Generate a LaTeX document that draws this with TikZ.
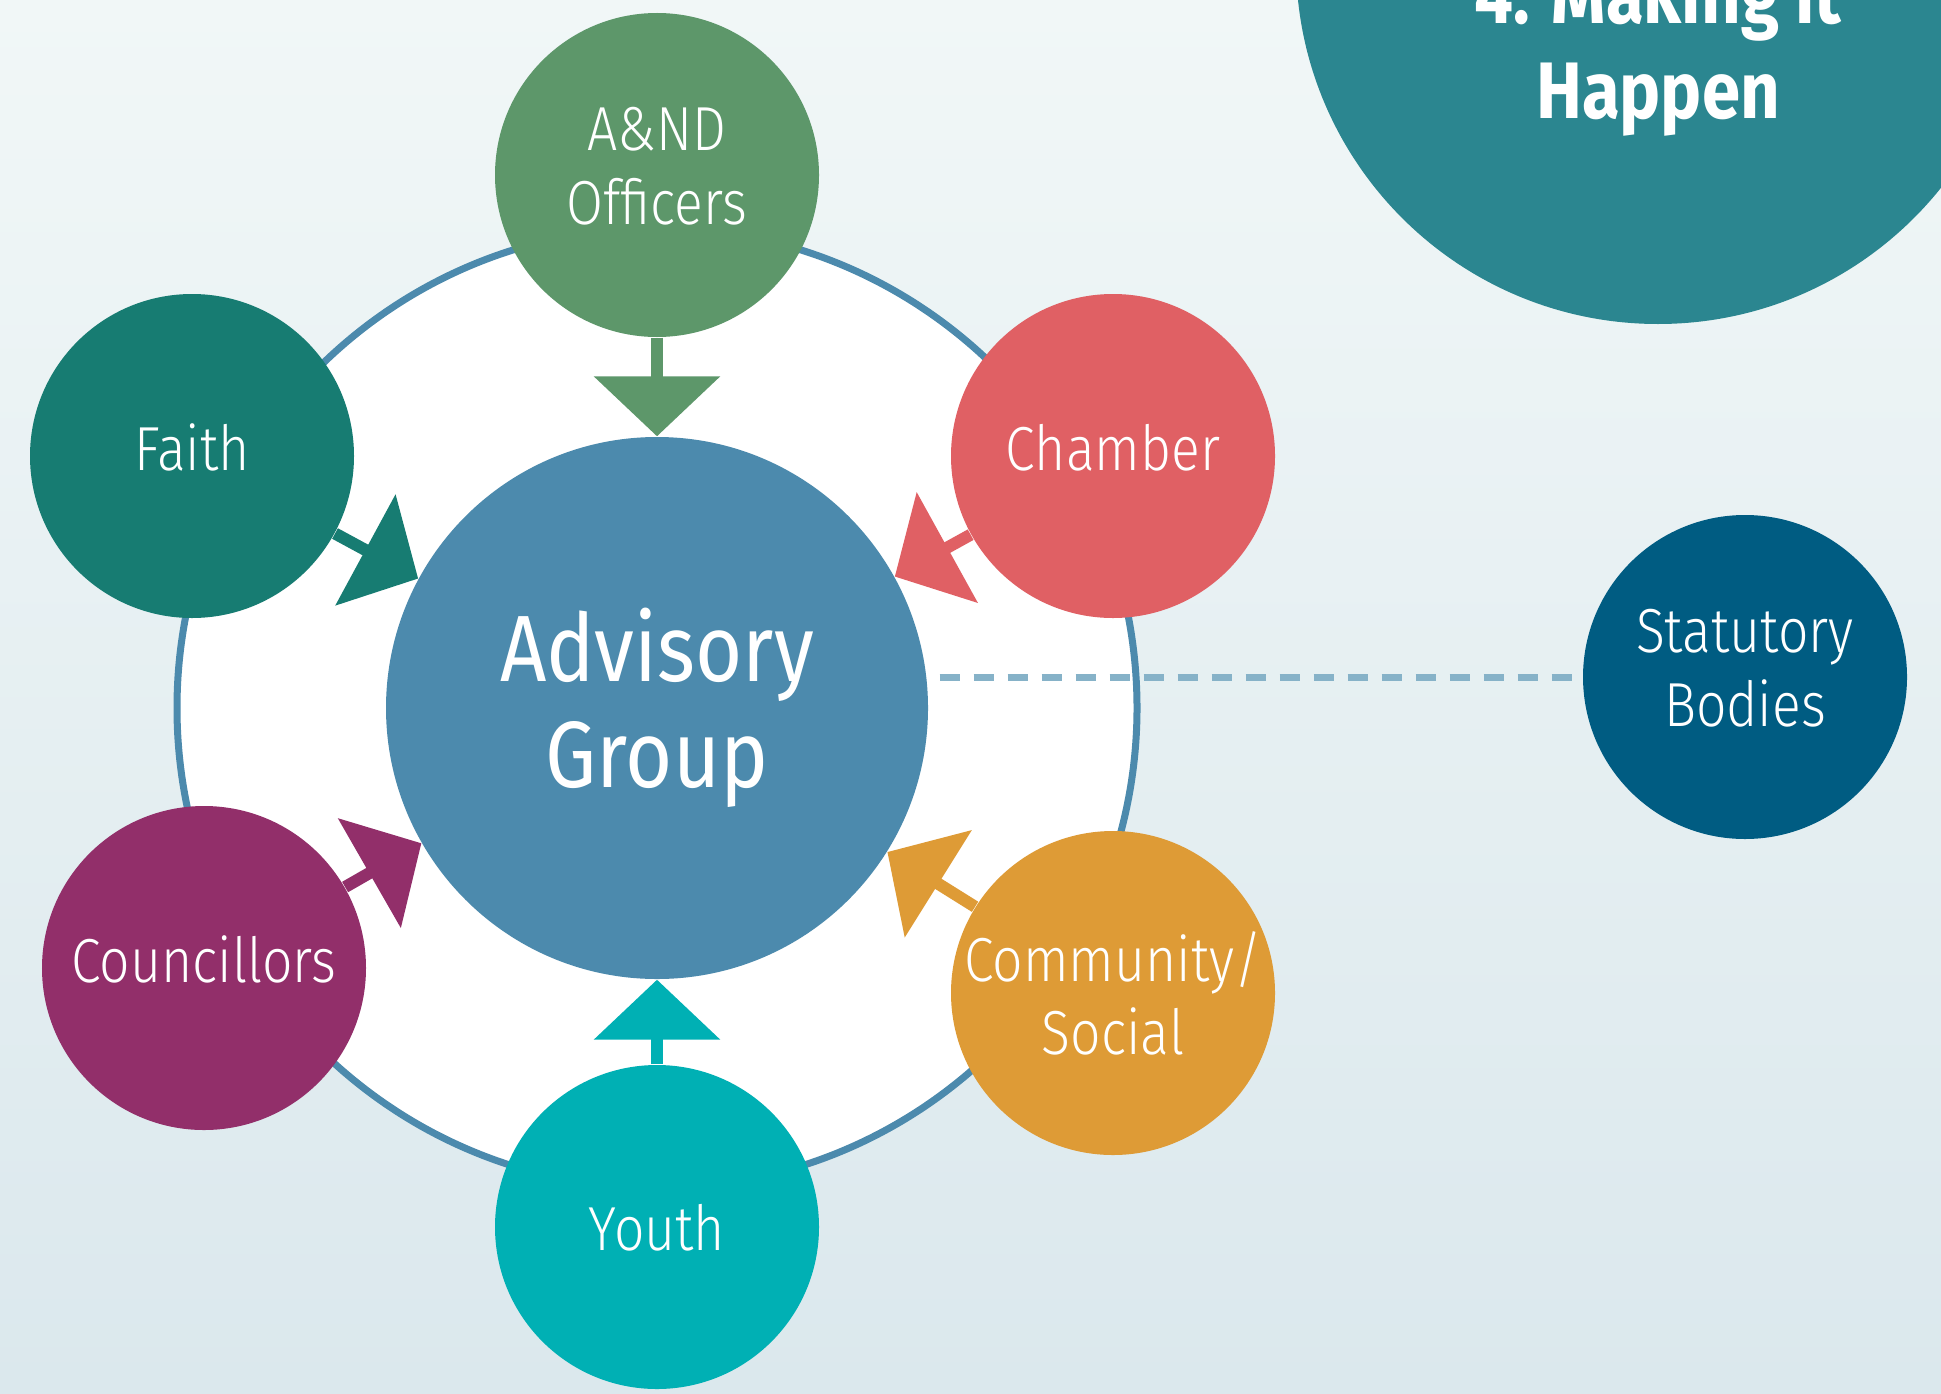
\documentclass[tikz,border=0pt]{standalone}
\usepackage{fontspec}
\setmainfont{Fira Sans}[UprightFont={* Light},BoldFont={* Bold},FakeStretch=0.86]
\newfontfamily\hubfont{Fira Sans}[FakeStretch=0.86]
\usetikzlibrary{arrows.meta}
\definecolor{AGBgTop}{HTML}{F1F7F7}
\definecolor{AGBgBot}{HTML}{DBE8ED}
\definecolor{AGHub}{HTML}{4C8AAD}
\definecolor{AGRing}{HTML}{4C8AAD}
\definecolor{AGDash}{HTML}{86B2C8}
\definecolor{AGGreen}{HTML}{5D976A}
\definecolor{AGTeal}{HTML}{177C72}
\definecolor{AGRed}{HTML}{E06064}
\definecolor{AGPlum}{HTML}{922F6A}
\definecolor{AGAmber}{HTML}{DE9B36}
\definecolor{AGCyan}{HTML}{00B0B4}
\definecolor{AGNavy}{HTML}{005C82}
\definecolor{AGTitle}{HTML}{2B8690}
\tikzset{
  ring/.style={circle,draw=AGRing,line width=0.07cm,fill=white,minimum size=9.6cm},
  hub/.style={circle,fill=AGHub,text=white,minimum size=5.42cm,inner sep=0pt,align=center,
              font=\hubfont\fontsize{26.8}{30}\selectfont},
  spoke/.style={circle,fill=#1,text=white,minimum size=3.24cm,inner sep=0pt,align=center,
                text depth=0.18cm,font=\fontsize{17.7}{21}\selectfont},
  spokelow/.style={spoke=#1,text depth=0cm},
  feed/.style={draw=#1,line width=0.12cm,-{Triangle[length=0.6cm,width=1.24cm]}},
  link/.style={AGDash,line width=0.07cm,dash pattern=on 0.2cm off 0.14cm},
  titledisc/.style={circle,fill=AGTitle,minimum size=7.24cm},
  titletext/.style={text=white,align=center,font=\bfseries\fontsize{22.8}{27}\selectfont},
}

\begin{document}
\begin{tikzpicture}
    \useasboundingbox (0,0) rectangle (19.41,13.93);
    \clip (0,0) rectangle (19.41,13.93);
    \shade[top color=AGBgTop,bottom color=AGBgBot] (0,0) rectangle (19.41,13.93);

    \node[titledisc] (title) at (16.58,14.31) {};
    \node[titletext,anchor=south] (titlelbl) at (16.58,12.44) {4. Making it\\Happen};

    \node[ring] (ring) at (6.57,6.85) {};
    \node[hub] (adv) at (6.57,6.85) {Advisory\\Group};

    \node[spoke=AGNavy] (stat) at (17.45,7.16) {Statutory\\Bodies};
    \draw[link,shorten <=0.11cm] (adv.east |- stat) -- (stat);

    \node[spoke=AGGreen] (and) at (6.57,12.18) {A\&ND\\Officers};
    \node[spoke=AGTeal] (faith) at (1.92,9.37) {Faith};
    \node[spoke=AGRed] (chamber) at (11.13,9.37) {Chamber};
    \node[spoke=AGPlum] (council) at (2.04,4.25) {Councillors};
    \node[spokelow=AGAmber] (comm) at (11.13,4.00) {Community/\\Social};
    \node[spokelow=AGCyan] (youth) at (6.57,1.66) {Youth};

    \draw[feed=AGGreen] (and) -- (adv);
    \draw[feed=AGTeal] (faith) -- (adv);
    \draw[feed=AGRed] (chamber) -- (adv);
    \draw[feed=AGPlum] (council) -- (adv);
    \draw[feed=AGAmber] (comm) -- (adv);
    \draw[feed=AGCyan] (youth) -- (adv);
\end{tikzpicture}
\end{document}
